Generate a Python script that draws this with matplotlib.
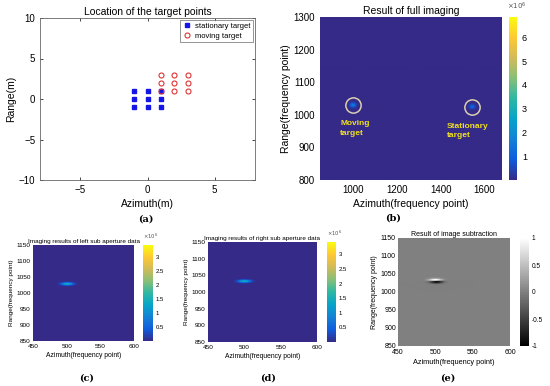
import numpy as np
import matplotlib
matplotlib.use("Agg")
import matplotlib.pyplot as plt
from matplotlib.colors import LinearSegmentedColormap

plt.rcParams['font.family'] = ['Liberation Sans', 'DejaVu Sans']

# ---------------- data ----------------
stat_x = [-1, 0, 1, -1, 0, 1, -1, 0, 1]
stat_y = [1, 1, 1, 0, 0, 0, -1, -1, -1]
move_x = [1, 2, 3, 1, 2, 3, 1, 2, 3]
move_y = [3, 3, 3, 2, 2, 2, 1, 1, 1]

# full imaging (b)
full_xlim = [850, 1680]
full_ylim = [800, 1300]
full_cx = [1000, 1545]
full_cy = [1030, 1025]
full_peak = [1.6e6, 1.1e6]
full_clim = [0, 6.85e6]
full_cticks = [1, 2, 3, 4, 5, 6]
label_text = ["Moving\ntarget", "Stationary\ntarget"]
label_x = [942, 1428]
label_y = [958, 950]

# sub aperture (c), (d), (e)
sub_xlim = [450, 600]
sub_ylim = [850, 1150]
left_cx, left_cy, left_peak = 501, 1029, 1.5e8
right_cx, right_cy, right_peak = 500, 1033, 1.5e8
sub_clim = [0, 3.42e8]
sub_cticks = [0.5, 1, 1.5, 2, 2.5, 3]
diff_cticks = [-1, -0.5, 0, 0.5, 1]

parula = LinearSegmentedColormap.from_list(
    "parula", ["#352a87", "#0f5cdd", "#1481d6", "#06a4ca", "#2eb7a4",
               "#87bf77", "#d1bb59", "#fec832", "#f9fb0e"])

W, H = 550, 386
fig = plt.figure(figsize=(W / 100, H / 100), dpi=100)


def rect(l, t, r, b):
    return [l / W, 1 - b / H, (r - l) / W, (b - t) / H]


def blob(xs, ys, cx, cy, peak, sx, sy):
    X, Y = np.meshgrid(xs, ys)
    return peak * np.exp(-((X - cx) ** 2 / (2 * sx ** 2) + (Y - cy) ** 2 / (2 * sy ** 2)))


# ---------------- (a) ----------------
ax = fig.add_axes(rect(40, 18, 255, 180))
ax.plot(stat_x, stat_y, linestyle='none', marker='s', color='#1515e8',
        markersize=2.6, label='stationary target')
ax.plot(move_x, move_y, linestyle='none', marker='o', mfc='none', mec='#e03535',
        markersize=3.6, mew=0.8, label='moving target')
ax.set_xlim(-8, 8)
ax.set_ylim(-10, 10)
ax.set_xticks([-5, 0, 5])
ax.set_yticks([-10, -5, 0, 5, 10])
ax.tick_params(labelsize=7, length=2.5, width=0.5, direction='in', top=True, right=True)
for s in ax.spines.values():
    s.set_linewidth(0.6)
    s.set_color('#666666')
ax.set_title('Location of the target points', fontsize=7.5, pad=2)
ax.set_ylabel('Range(m)', fontsize=7.5, labelpad=2)
ax.set_xlabel('Azimuth(m)', fontsize=7.5, labelpad=3)
leg = ax.legend(loc='upper right', fontsize=5.5, frameon=True, fancybox=False,
                edgecolor='#444444', handletextpad=0.4, borderpad=0.3,
                labelspacing=0.3, handlelength=1.2, borderaxespad=0.3)
leg.get_frame().set_linewidth(0.5)

# ---------------- (b) ----------------
ax = fig.add_axes(rect(320, 17, 502, 180))
xs = np.arange(full_xlim[0], full_xlim[1] + 1, 2)
ys = np.arange(full_ylim[0], full_ylim[1] + 1, 2)
img = np.zeros((len(ys), len(xs)))
for cx, cy, pk in zip(full_cx, full_cy, full_peak):
    img += blob(xs, ys, cx, cy, pk, 10, 5)
im = ax.imshow(img, extent=[full_xlim[0], full_xlim[1], full_ylim[0], full_ylim[1]],
               origin='lower', aspect='auto', cmap=parula,
               vmin=full_clim[0], vmax=full_clim[1])
ax.plot(full_cx, full_cy, linestyle='none', marker='o', markersize=11,
        mfc='none', mec='#d8d0b0', mew=1.1)
for t, x, y in zip(label_text, label_x, label_y):
    ax.text(x, y, t, color='#f0e020', fontsize=6, fontweight='bold',
            ha='left', va='center', linespacing=1.5)
ax.set_xlim(full_xlim)
ax.set_ylim(full_ylim)
ax.set_xticks([1000, 1200, 1400, 1600])
ax.set_yticks([800, 900, 1000, 1100, 1200, 1300])
ax.tick_params(labelsize=7, length=0)
for s in ax.spines.values():
    s.set_visible(False)
ax.set_title('Result of full imaging', fontsize=7.5, pad=2)
ax.set_ylabel('Range(frequency point)', fontsize=7.5, labelpad=2)
ax.set_xlabel('Azimuth(frequency point)', fontsize=7.5, labelpad=3)
cax = fig.add_axes(rect(509, 17, 517, 180))
cb = fig.colorbar(im, cax=cax)
cb.set_ticks([v * 1e6 for v in full_cticks])
cb.set_ticklabels([str(v) for v in full_cticks])
cb.ax.tick_params(labelsize=6.5, length=0)
cb.outline.set_visible(False)
fig.text(517 / W, 1 - 10 / H, r'$\times10^6$', fontsize=5, color='#555555', ha='center')


def sub_panel(box, cbox, data, cmap, vmin, vmax, title, cticks, clabels, exp_txt,
              fs, tfs):
    ax = fig.add_axes(rect(*box))
    im = ax.imshow(data, extent=[sub_xlim[0], sub_xlim[1], sub_ylim[0], sub_ylim[1]],
                   origin='lower', aspect='auto', cmap=cmap, vmin=vmin, vmax=vmax,
                   interpolation='nearest')
    ax.set_xlim(sub_xlim)
    ax.set_ylim(sub_ylim)
    ax.set_xticks([450, 500, 550, 600])
    ax.set_yticks([850, 900, 950, 1000, 1050, 1100, 1150])
    ax.tick_params(axis='x', labelsize=fs, length=0, pad=2.5)
    ax.tick_params(axis='y', labelsize=fs, length=0, pad=1.5)
    for s in ax.spines.values():
        s.set_visible(False)
    ax.set_title(title, fontsize=tfs, pad=1.5)
    ax.set_ylabel('Range(frequency point)', fontsize=fs, labelpad=1.5)
    ax.set_xlabel('Azimuth(frequency point)', fontsize=fs + 0.3, labelpad=2)
    cax = fig.add_axes(rect(*cbox))
    cb = fig.colorbar(im, cax=cax)
    cb.set_ticks(cticks)
    cb.set_ticklabels(clabels)
    cb.ax.tick_params(labelsize=fs - 0.3, length=0, pad=2)
    cb.outline.set_visible(False)
    if exp_txt:
        fig.text((cbox[0] + cbox[2]) / 2 / W + 0.005, 1 - (cbox[1] - 6) / H, exp_txt,
                 fontsize=3.8, color='#555555', ha='center')
    return ax


sxs = np.arange(sub_xlim[0], sub_xlim[1] + 0.5, 1.0)
sys_ = np.arange(sub_ylim[0], sub_ylim[1] + 0.5, 1.0)
left_img = blob(sxs, sys_, left_cx, left_cy, left_peak, 6, 3)
right_img = blob(sxs, sys_, right_cx, right_cy, right_peak, 6, 3)

sub_panel((33, 245, 134, 341), (143, 245, 153, 341), left_img, parula,
          sub_clim[0], sub_clim[1], 'Imaging results of left sub aperture data',
          [v * 1e8 for v in sub_cticks], [f'{v:g}' for v in sub_cticks],
          r'$\times10^6$', 4.6, 4.6)
sub_panel((208, 242, 317, 342), (327, 242, 336, 342), right_img, parula,
          sub_clim[0], sub_clim[1], 'Imaging results of right sub aperture data',
          [v * 1e8 for v in sub_cticks], [f'{v:g}' for v in sub_cticks],
          r'$\times10^6$', 4.6, 4.6)
diff = (right_img - left_img) / right_peak
diff = diff / np.abs(diff).max()
sub_panel((398, 238, 510, 346), (520, 238, 529, 346), diff, 'gray',
          -1, 1, 'Result of image subtraction',
          diff_cticks, [f'{v:g}' for v in diff_cticks], None, 5.0, 5.0)

# panel labels
for lab, x, y in [('(a)', 146, 219), ('(b)', 393, 218), ('(c)', 87, 378),
                  ('(d)', 268, 378), ('(e)', 448, 378)]:
    fig.text(x / W, 1 - y / H, lab, fontsize=7, fontweight='bold',
             family='DejaVu Serif', ha='center', va='center')

fig.savefig('out.png', dpi=100)
